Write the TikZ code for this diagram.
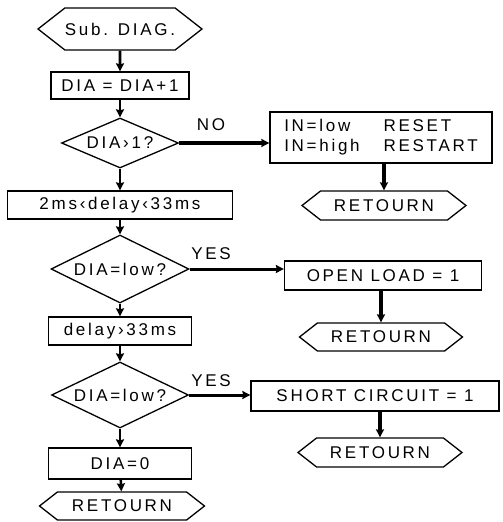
\documentclass[tikz,border=0pt]{standalone}
\usepackage{fontspec}
\usepackage{tikz}
\usetikzlibrary{shapes.geometric,shapes.symbols,arrows.meta}
\newfontfamily\diafont{Liberation Sans}[LetterSpace=16]

\begin{document}
\begin{tikzpicture}[x=1pt, y=-1pt,
	every node/.style={font=\diafont\fontsize{17}{20}\selectfont},
	box/.style={draw, line width=1.3pt, inner sep=0pt},
	hexa/.style={draw, line width=1.3pt, inner sep=0pt, shape=signal, signal to=west and east, signal pointer angle=76},
	test/.style={draw, line width=1.3pt, inner sep=0pt, shape=diamond, aspect=2},
	flow/.style={line width=2.6pt, -{Stealth[length=8pt, width=8pt, inset=1pt]}},
	branch/.style={line width=3.4pt, -{Stealth[length=8pt, width=8pt, inset=1pt]}}]
	\useasboundingbox (0,0) rectangle (503,522);
	% main column
	\node[hexa, minimum width=149, minimum height=42] (sub) at (120,29) {Sub. DIAG.};
	\node[box, minimum width=138, minimum height=27] (inc) at (120,85.5) {DIA = DIA+1};
	\node[test, minimum width=117, minimum height=50] (gt) at (120,143) {DIA›1?};
	\node[box, minimum width=225, minimum height=28] (win) at (120,205) {2ms‹delay‹33ms};
	\node[test, minimum width=138, minimum height=68] (lowA) at (120,269) {DIA=low?};
	\node[box, minimum width=143, minimum height=28] (late) at (120,331) {delay›33ms};
	\node[test, minimum width=137, minimum height=66] (lowB) at (120,395) {DIA=low?};
	\node[box, minimum width=143, minimum height=31] (clr) at (120,463.5) {DIA=0};
	\node[hexa, minimum width=165, minimum height=28] (retA) at (122,506) {RETOURN};
	% side branches
	\node[box, minimum width=222, minimum height=51] (rst) at (381,137.5) {%
		\begin{tabular}{@{}l@{\hspace{24pt}}l@{}}IN=low & RESET\\[0pt] IN=high & RESTART\end{tabular}};
	\node[hexa, minimum width=164, minimum height=29] (retB) at (384,205.5) {RETOURN};
	\node[box, minimum width=197, minimum height=29] (open) at (383,275.5) {OPEN LOAD = 1};
	\node[hexa, minimum width=163, minimum height=28] (retC) at (381,337) {RETOURN};
	\node[box, minimum width=248, minimum height=30] (short) at (375,396) {SHORT CIRCUIT = 1};
	\node[hexa, minimum width=164, minimum height=29] (retD) at (380,452.5) {RETOURN};
	\node (no) at (211,125) {NO};
	\node (yesA) at (211,254) {YES};
	\node (yesB) at (211,381) {YES};
	% connectors
	\draw[flow] (sub) -- (inc);
	\draw[flow] (inc) -- (gt);
	\draw[flow] (gt) -- (win);
	\draw[flow] (win) -- (lowA);
	\draw[flow] (lowA) -- (late);
	\draw[flow] (late) -- (lowB);
	\draw[flow] (lowB) -- (clr);
	\draw[flow] (clr) -- (retA);
	\draw[branch] (gt.east) -- (gt.east -| rst.west);
	\draw[flow, line width=3pt] (lowA.east) -- (lowA.east -| open.west);
	\draw[flow, line width=3pt] (lowB.east) -- (lowB.east -| short.west);
	\draw[branch] (rst.south -| retB) -- (retB.north);
	\draw[branch] (open.south -| retC) -- (retC.north);
	\draw[branch] (short.south -| retD) -- (retD.north);
\end{tikzpicture}
\end{document}
